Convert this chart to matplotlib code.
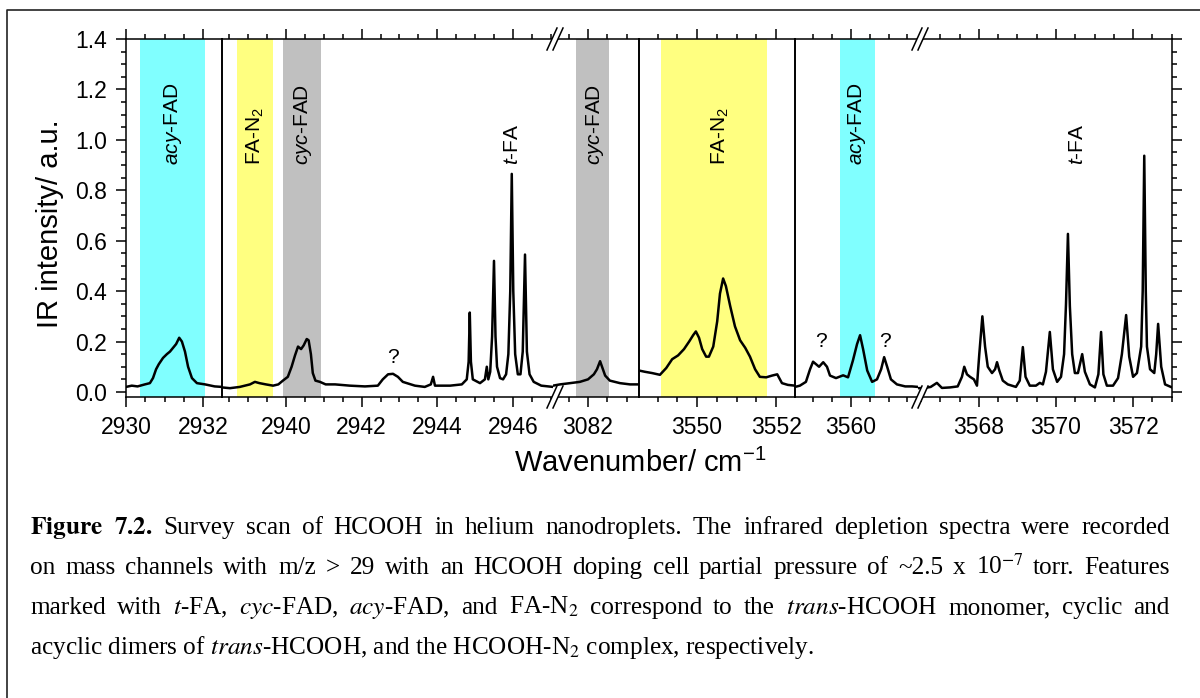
import matplotlib
matplotlib.use("Agg")
import matplotlib.pyplot as plt
from matplotlib.ticker import FixedLocator, MultipleLocator, FormatStrFormatter
from matplotlib.patches import Polygon

plt.rcParams.update({
    "font.family": "Liberation Sans",
    "mathtext.fontset": "custom",
    "mathtext.rm": "Liberation Sans",
    "mathtext.it": "Liberation Sans:italic",
    "mathtext.bf": "Liberation Sans:bold",
})

# ---- depletion spectrum, one piece per wavenumber window ----
wn_a = [2930.00, 2930.15, 2930.30, 2930.49, 2930.62, 2930.70, 2930.78, 2930.85, 2930.96, 2931.06,
        2931.14, 2931.22, 2931.30, 2931.38, 2931.45, 2931.53, 2931.61, 2931.71, 2931.84, 2932.05,
        2932.30, 2932.49]
ir_a = [0.02, 0.025, 0.022, 0.03, 0.035, 0.055, 0.09, 0.11, 0.135, 0.15,
        0.16, 0.175, 0.19, 0.215, 0.20, 0.16, 0.10, 0.055, 0.035, 0.03,
        0.022, 0.02]

wn_b = [2938.31, 2938.52, 2938.78, 2939.05, 2939.18, 2939.30, 2939.47, 2939.66, 2939.80, 2939.92,
        2940.05, 2940.15, 2940.24, 2940.32, 2940.40, 2940.47, 2940.55, 2940.60, 2940.66, 2940.71,
        2940.78, 2940.90, 2941.05, 2941.30, 2941.69, 2942.09, 2942.43, 2942.56, 2942.70, 2942.83,
        2942.96, 2943.09, 2943.41, 2943.67, 2943.83, 2943.89, 2943.94, 2944.34, 2944.65, 2944.78,
        2944.83, 2944.86, 2944.89, 2944.94, 2945.13, 2945.26, 2945.31, 2945.35, 2945.40, 2945.45,
        2945.50, 2945.54, 2945.58, 2945.66, 2945.74, 2945.82, 2945.88, 2945.93, 2945.97, 2946.01,
        2946.06, 2946.13, 2946.20, 2946.26, 2946.32, 2946.37, 2946.44, 2946.55, 2946.75, 2947.06]
ir_b = [0.018, 0.015, 0.02, 0.03, 0.04, 0.035, 0.03, 0.025, 0.03, 0.045,
        0.06, 0.10, 0.145, 0.18, 0.17, 0.185, 0.21, 0.205, 0.15, 0.075,
        0.045, 0.04, 0.03, 0.03, 0.025, 0.022, 0.025, 0.05, 0.07, 0.072,
        0.06, 0.04, 0.025, 0.02, 0.03, 0.06, 0.025, 0.025, 0.03, 0.05,
        0.12, 0.315, 0.12, 0.05, 0.035, 0.05, 0.10, 0.05, 0.08, 0.22,
        0.52, 0.22, 0.10, 0.055, 0.05, 0.07, 0.15, 0.40, 0.865, 0.40,
        0.15, 0.07, 0.07, 0.16, 0.545, 0.16, 0.07, 0.04, 0.025, 0.02]

wn_c = [3081.10, 3081.28, 3081.54, 3081.79, 3082.00, 3082.15, 3082.23, 3082.31, 3082.36, 3082.44,
        3082.56, 3082.82, 3083.08, 3083.31]
ir_c = [0.025, 0.03, 0.035, 0.04, 0.05, 0.07, 0.09, 0.122, 0.10, 0.065,
        0.045, 0.035, 0.03, 0.03]

wn_d = [3548.53, 3548.68, 3548.86, 3549.06, 3549.22, 3549.37, 3549.52, 3549.67, 3549.80, 3549.90,
        3549.97, 3550.05, 3550.13, 3550.23, 3550.30, 3550.41, 3550.51, 3550.58, 3550.66, 3550.73,
        3550.84, 3550.96, 3551.09, 3551.22, 3551.34, 3551.47, 3551.59, 3551.75, 3551.90, 3552.03,
        3552.15, 3552.30, 3552.48]
ir_d = [0.085, 0.08, 0.075, 0.068, 0.095, 0.13, 0.145, 0.17, 0.20, 0.225,
        0.24, 0.215, 0.17, 0.14, 0.14, 0.18, 0.28, 0.39, 0.45, 0.42,
        0.34, 0.26, 0.205, 0.175, 0.14, 0.09, 0.06, 0.058, 0.065, 0.07,
        0.035, 0.028, 0.025]

wn_e = [3558.51, 3558.64, 3558.80, 3558.91, 3558.99, 3559.07, 3559.15, 3559.26, 3559.36, 3559.44,
        3559.60, 3559.79, 3559.92, 3560.05, 3560.16, 3560.24, 3560.32, 3560.43, 3560.56, 3560.69,
        3560.80, 3560.88, 3560.96, 3561.06, 3561.22, 3561.44, 3561.62, 3561.78]
ir_e = [0.02, 0.025, 0.04, 0.09, 0.12, 0.11, 0.10, 0.118, 0.10, 0.065,
        0.055, 0.066, 0.058, 0.125, 0.19, 0.225, 0.17, 0.085, 0.04, 0.05,
        0.09, 0.138, 0.10, 0.05, 0.03, 0.022, 0.022, 0.02]

wn_f = [3566.42, 3566.60, 3566.75, 3566.91, 3567.04, 3567.25, 3567.45, 3567.56, 3567.62, 3567.69,
        3567.77, 3567.87, 3567.95, 3568.01, 3568.09, 3568.16, 3568.23, 3568.34, 3568.42, 3568.47,
        3568.53, 3568.62, 3568.75, 3568.96, 3569.06, 3569.14, 3569.21, 3569.32, 3569.48, 3569.58,
        3569.66, 3569.74, 3569.84, 3569.92, 3570.03, 3570.13, 3570.21, 3570.26, 3570.31, 3570.36,
        3570.42, 3570.49, 3570.57, 3570.68, 3570.75, 3570.88, 3571.01, 3571.10, 3571.17, 3571.23,
        3571.32, 3571.48, 3571.61, 3571.71, 3571.82, 3571.90, 3572.00, 3572.10, 3572.21, 3572.25,
        3572.29, 3572.33, 3572.36, 3572.44, 3572.55, 3572.60, 3572.65, 3572.73, 3572.83, 3573.01]
ir_f = [0.015, 0.016, 0.02, 0.036, 0.016, 0.018, 0.022, 0.06, 0.10, 0.07,
        0.06, 0.05, 0.025, 0.15, 0.30, 0.18, 0.10, 0.075, 0.09, 0.118,
        0.085, 0.045, 0.03, 0.02, 0.045, 0.178, 0.06, 0.025, 0.025, 0.036,
        0.03, 0.08, 0.238, 0.09, 0.04, 0.06, 0.15, 0.35, 0.627, 0.34,
        0.15, 0.075, 0.075, 0.15, 0.08, 0.03, 0.018, 0.07, 0.238, 0.07,
        0.025, 0.025, 0.055, 0.15, 0.305, 0.14, 0.06, 0.075, 0.18, 0.40,
        0.937, 0.40, 0.18, 0.09, 0.075, 0.15, 0.27, 0.10, 0.03, 0.018]

# x windows of the broken axis and their labelled ticks
window_lo = [2930.0, 2938.31, 3081.10, 3548.53, 3558.51, 3566.42]
window_hi = [2932.49, 2947.06, 3083.31, 3552.48, 3561.78, 3573.01]
window_ticks = [[2930, 2932], [2940, 2942, 2944, 2946], [3082], [3550, 3552], [3560],
                [3568, 3570, 3572]]

# assigned spectral regions
band_lo = [2930.36, 2938.70, 2939.92, 3081.69, 3549.09, 3559.71]
band_hi = [2932.05, 2939.66, 2940.93, 3082.54, 3551.77, 3560.64]
band_color = ["#80ffff", "#ffff80", "#c0c0c0", "#c0c0c0", "#ffff80", "#80ffff"]

label_text = [r"$\mathit{acy}$-FAD", r"FA-N$_2$", r"$\mathit{cyc}$-FAD", r"$\mathit{t}$-FA",
              r"$\mathit{cyc}$-FAD", r"FA-N$_2$", r"$\mathit{acy}$-FAD", r"$\mathit{t}$-FA"]
label_x = [2931.22, 2939.18, 2940.45, 2946.00, 3082.18, 3550.58, 3560.16, 3570.55]
label_y = 0.90

unknown_x = [2942.83, 3559.20, 3560.90]
unknown_y = [0.115, 0.18, 0.18]

caption_lines = [
    r"$\mathbf{Figure}$ $\mathbf{7.2.}$ Survey scan of HCOOH in helium nanodroplets. The infrared depletion spectra were recorded",
    r"on mass channels with m/z > 29 with an HCOOH doping cell partial pressure of ~2.5 x 10$^{-7}$ torr. Features",
    r"marked with $\mathit{t}$-FA, $\mathit{cyc}$-FAD, $\mathit{acy}$-FAD, and FA-N$_2$ correspond to the $\mathit{trans}$-HCOOH monomer, cyclic and",
    r"acyclic dimers of $\mathit{trans}$-HCOOH, and the HCOOH-N$_2$ complex, respectively.",
]

spectra = [(wn_a, ir_a), (wn_b, ir_b), (wn_c, ir_c), (wn_d, ir_d), (wn_e, ir_e), (wn_f, ir_f)]

# ---- layout (pixels of a 1200 x 698 canvas) ----
W, H = 1200, 698
fig = plt.figure(figsize=(W / 100, H / 100), dpi=100)
fig.patch.set_facecolor("white")

edges_px = [126, 222, 553, 639, 795, 918, 1172]
top_px, bot_px = 39, 397
solid_join = [True, False, True, True, False]   # False -> axis break "//"
LW = 1.1

axes = []
for i in range(len(window_lo)):
    x0, x1 = edges_px[i], edges_px[i + 1]
    ax = fig.add_axes([x0 / W, 1 - bot_px / H, (x1 - x0) / W, (bot_px - top_px) / H])
    ax.set_xlim(window_lo[i], window_hi[i])
    ax.set_ylim(-0.02, 1.4)
    ax.patch.set_alpha(0)
    last = i == len(window_lo) - 1
    for side in ("top", "bottom", "left", "right"):
        ax.spines[side].set_linewidth(LW)
    ax.spines["left"].set_visible(i == 0)
    ax.spines["right"].set_visible(last or solid_join[i])
    if not last and solid_join[i]:
        ax.spines["right"].set_linewidth(1.4)

    ax.xaxis.set_major_locator(FixedLocator(window_ticks[i]))
    ax.xaxis.set_minor_locator(MultipleLocator(0.5))
    ax.tick_params(axis="x", which="both", direction="out", top=True, bottom=True,
                   width=LW, labelsize=16.5, pad=6)
    ax.tick_params(axis="x", which="major", length=7.5)
    ax.tick_params(axis="x", which="minor", length=3.3)

    ax.yaxis.set_major_locator(MultipleLocator(0.2))
    ax.yaxis.set_minor_locator(MultipleLocator(0.05))
    ax.yaxis.set_major_formatter(FormatStrFormatter("%.1f"))
    if i == 0:
        ax.tick_params(axis="y", which="both", direction="out", left=True, right=False,
                       width=LW, labelsize=16.5, pad=6)
    elif last:
        ax.tick_params(axis="y", which="both", direction="out", left=False, right=True,
                       labelleft=False, labelright=False, width=LW)
    else:
        ax.tick_params(axis="y", which="both", left=False, right=False, labelleft=False)
    ax.tick_params(axis="y", which="major", length=7.5)
    ax.tick_params(axis="y", which="minor", length=3.3)

    for lo, hi, c in zip(band_lo, band_hi, band_color):
        ax.axvspan(lo, hi, color=c, lw=0, zorder=0)
    wn, ir = spectra[i]
    ax.plot(wn, ir, color="black", lw=1.8, zorder=3, solid_joinstyle="round")
    axes.append(ax)


def axis_for(x):
    for a, lo, hi in zip(axes, window_lo, window_hi):
        if lo <= x <= hi:
            return a
    return axes[-1]


for txt, x in zip(label_text, label_x):
    axis_for(x).text(x, label_y, txt, rotation=90, ha="center", va="bottom", fontsize=15,
                     zorder=4)
for x, y in zip(unknown_x, unknown_y):
    axis_for(x).text(x, y, "?", ha="center", va="baseline", fontsize=15, zorder=4)

fig.text(50 / W, 1 - 224 / H, "IR intensity/ a.u.", rotation=90, ha="center", va="center",
         fontsize=21)
fig.text(640 / W, 1 - 463 / H, r"Wavenumber/ cm$^{-1}$", ha="center", va="center",
         fontsize=21)

# overlay in pixel coordinates: frame and axis-break marks
ov = fig.add_axes([0, 0, 1, 1], zorder=10)
ov.set_xlim(0, W)
ov.set_ylim(H, 0)
ov.axis("off")
ov.plot([7, 7, W], [H, 10, 10], color="#222222", lw=1.2, clip_on=False)
for k, joined in enumerate(solid_join):
    if joined:
        continue
    xb = edges_px[k + 1] + 2
    for ys in (top_px, bot_px):
        ov.add_patch(Polygon([(xb - 8, ys + 11), (xb + 2, ys - 11), (xb + 8, ys - 11),
                              (xb - 2, ys + 11)], closed=True, fc="white", ec="none"))
        ov.plot([xb - 8, xb + 2], [ys + 11, ys - 11], color="black", lw=LW)
        ov.plot([xb - 2, xb + 8], [ys + 11, ys - 11], color="black", lw=LW)

# caption: justified paragraph, last line left aligned
renderer = fig.canvas.get_renderer()
cap_left, cap_right = 30, 1170
cap_style = dict(fontsize=18.2, family="Liberation Serif", math_fontfamily="stix",
                 ha="left", va="baseline")
for n, line in enumerate(caption_lines):
    y = 1 - (534 + 40 * n) / H
    if n == len(caption_lines) - 1:
        fig.text(cap_left / W, y, line, **cap_style)
        continue
    words = line.split(" ")
    items = [fig.text(0, y, w, **cap_style) for w in words]
    widths = [t.get_window_extent(renderer).width for t in items]
    gap = (cap_right - cap_left - sum(widths)) / (len(words) - 1)
    x = cap_left
    for t, w in zip(items, widths):
        t.set_x(x / W)
        x += w + gap

fig.savefig("out.png", dpi=100, facecolor="white")
